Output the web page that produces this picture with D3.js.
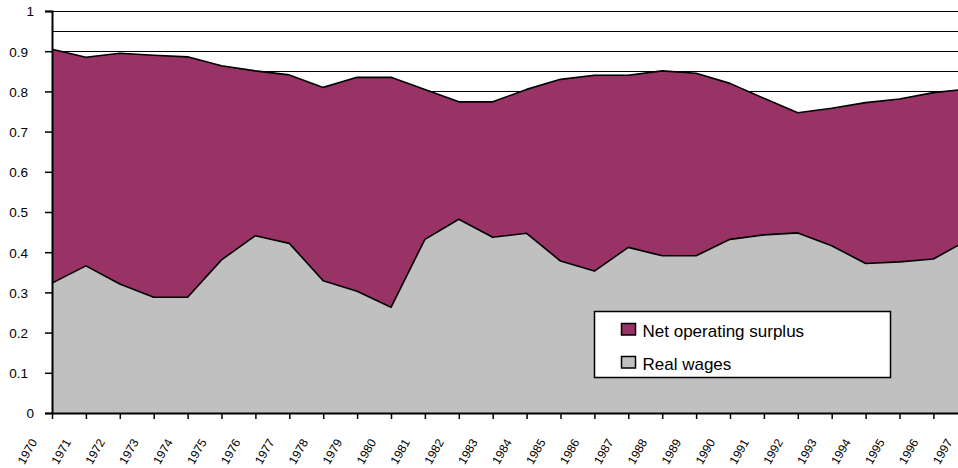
<!DOCTYPE html>
<html>
<head>
<meta charset="utf-8">
<script src="https://cdn.jsdelivr.net/npm/d3@7"></script>
<style>
  html, body { margin: 0; padding: 0; background: #fff; overflow: hidden; }
  svg { display: block; font-family: "Liberation Sans", Arial, sans-serif; }
</style>
</head>
<body>
<svg id="chart" width="958" height="468"></svg>
<script>
// ---- Data ----
const years = [1970,1971,1972,1973,1974,1975,1976,1977,1978,1979,1980,1981,1982,1983,
               1984,1985,1986,1987,1988,1989,1990,1991,1992,1993,1994,1995,1996,1997];
const realWages = [0.323,0.366,0.321,0.288,0.288,0.381,0.441,0.422,0.329,0.303,0.263,0.432,0.482,0.437,
                   0.447,0.378,0.353,0.412,0.391,0.391,0.432,0.443,0.448,0.416,0.372,0.376,0.383,0.430];
const netOperatingSurplus = [0.582,0.519,0.574,0.602,0.598,0.483,0.410,0.419,0.481,0.532,0.572,0.373,0.292,0.337,
                   0.358,0.452,0.487,0.428,0.460,0.454,0.388,0.340,0.299,0.342,0.400,0.405,0.414,0.376];
const yTicks = [0,0.1,0.2,0.3,0.4,0.5,0.6,0.7,0.8,0.9,1];
const gridValues = [0.05,0.1,0.15,0.2,0.25,0.3,0.35,0.4,0.45,0.5,0.55,0.6,0.65,0.7,0.75,0.8,0.85,0.9,0.95,1];
const seriesNames = ["Real wages", "Net operating surplus"];
const seriesColors = ["#C0C0C0", "#993366"];

// ---- Layout ----
const svg = d3.select("#chart");
const mLeft = 52, mTop = 11, mBottom = 413;
const step = 33.9;
const x = d3.scaleLinear().domain([years[0], years[years.length-1]])
  .range([mLeft, mLeft + step * (years.length - 1)]);
const y = d3.scaleLinear().domain([0, 1]).range([mBottom, mTop]);

const rows = years.map((yr, i) => ({year: yr, "Real wages": realWages[i], "Net operating surplus": netOperatingSurplus[i]}));
const stacked = d3.stack().keys(seriesNames)(rows);

// gridlines
svg.append("g").selectAll("line").data(gridValues).join("line")
  .attr("x1", mLeft).attr("x2", 958)
  .attr("y1", d => Math.round(y(d)) + 0.5).attr("y2", d => Math.round(y(d)) + 0.5)
  .attr("stroke", "#000").attr("stroke-width", 1);

// areas
const area = d3.area().x(d => x(d.data.year)).y0(d => y(d[0])).y1(d => y(d[1]));
svg.append("g").selectAll("path").data(stacked).join("path")
  .attr("d", area)
  .attr("fill", (d, i) => seriesColors[i]);

// outline lines
const line = d3.line().x(d => x(d.data.year)).y(d => y(d[1]));
svg.append("g").selectAll("path").data(stacked).join("path")
  .attr("d", line)
  .attr("fill", "none").attr("stroke", "#000").attr("stroke-width", 1.6)
  .attr("stroke-linejoin", "round");

// y axis
const yAxis = d3.axisLeft(y).tickValues(yTicks).tickSize(7).tickPadding(0)
  .tickFormat(d => String(+d.toFixed(1)));
const gy = svg.append("g").attr("transform", `translate(${mLeft},0)`).call(yAxis);
gy.select(".domain").attr("stroke", "#000").attr("stroke-width", 2);
gy.selectAll(".tick line").attr("stroke", "#000").attr("stroke-width", 1.5);
gy.selectAll(".tick text")
  .attr("x", d => (Number.isInteger(d) ? -18 : -24))
  .attr("dy", "0.36em")
  .attr("font-size", "13.5px").attr("fill", "#000")
  .attr("font-family", "Liberation Sans, Arial, sans-serif");

// x axis
const xAxis = d3.axisBottom(x).tickValues(years).tickSize(6).tickFormat(d => String(d)).tickSizeOuter(0);
const gx = svg.append("g").attr("transform", `translate(0,${mBottom})`).call(xAxis);
gx.select(".domain").attr("stroke", "#000").attr("stroke-width", 2);
gx.selectAll(".tick line").attr("stroke", "#000").attr("stroke-width", 1.5);
gx.selectAll(".tick text")
  .attr("y", 0).attr("dy", 0)
  .attr("text-anchor", "end")
  .attr("transform", "translate(-15,29) rotate(-60)")
  .attr("font-size", "12px").attr("fill", "#000")
  .attr("font-family", "Liberation Sans, Arial, sans-serif");

// legend
const lg = svg.append("g");
lg.append("rect").attr("x", 594.5).attr("y", 311.5).attr("width", 296).attr("height", 66)
  .attr("fill", "#fff").attr("stroke", "#000").attr("stroke-width", 1.5);
const legendItems = [
  {name: "Net operating surplus", color: seriesColors[1], y: 323.5},
  {name: "Real wages", color: seriesColors[0], y: 356.5}
];
legendItems.forEach(it => {
  lg.append("rect").attr("x", 621.5).attr("y", it.y).attr("width", 14).attr("height", 11.5)
    .attr("fill", it.color).attr("stroke", "#000").attr("stroke-width", 1.5);
  lg.append("text").attr("x", 642.5).attr("y", it.y + 13.8)
    .attr("font-size", "17px").attr("fill", "#000").text(it.name);
});
</script>
</body>
</html>
